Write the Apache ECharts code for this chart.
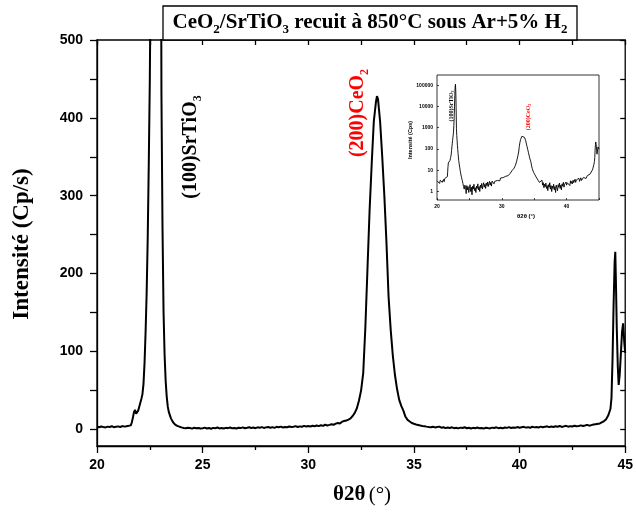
<!DOCTYPE html>
<html><head><meta charset="utf-8">
<script src="https://cdn.jsdelivr.net/npm/echarts@6/dist/echarts.min.js"></script>
<style>html,body{margin:0;padding:0;background:#fff}#c{width:636px;height:513px}</style>
</head><body><div id="c"></div>
<script>
// 2theta (degrees)
const theta = [
  20.0,20.1,20.2,20.3,20.4,20.5,20.6,20.7,20.8,20.9,21.0,21.1,21.2,21.3,21.4,21.5,21.6,
  21.65,21.7,21.75,21.8,21.85,21.9,21.95,22.0,22.05,22.1,22.15,22.2,22.25,22.3,22.35,22.4,22.45,22.5,22.55,22.6,22.65,22.7,22.75,22.8,22.85,22.9,22.95,23.0,23.05,23.1,23.15,23.2,23.25,23.3,23.35,23.4,23.5,23.6,23.7,23.8,23.9,
  24.0,24.1,24.2,24.3,24.4,24.5,24.6,24.7,24.8,24.9,25.0,25.1,25.2,25.3,25.4,25.5,25.6,25.7,25.8,25.9,
  26.0,26.1,26.2,26.3,26.4,26.5,26.6,26.7,26.8,26.9,27.0,27.1,27.2,27.3,27.4,27.5,27.6,27.7,27.8,27.9,
  28.0,28.1,28.2,28.3,28.4,28.5,28.6,28.7,28.8,28.9,29.0,29.1,29.2,29.3,29.4,29.5,29.6,29.7,29.8,29.9,30.0,
  30.1,30.2,30.3,30.4,30.5,30.6,30.7,30.8,30.9,31.0,31.1,31.2,31.3,31.4,31.5,31.6,31.7,31.8,31.9,32.0,
  32.1,32.2,32.3,32.4,32.5,32.6,32.7,32.8,32.9,33.0,33.1,33.2,33.25,33.3,33.4,33.5,33.6,33.7,33.8,33.9,34.0,34.1,34.2,34.3,34.4,34.5,34.6,34.7,34.8,34.9,35.0,35.1,
  35.2,35.3,35.4,35.5,35.6,35.7,35.8,35.9,
  36.0,36.1,36.2,36.3,36.4,36.5,36.6,36.7,36.8,36.9,37.0,37.1,37.2,37.3,37.4,37.5,37.6,37.7,37.8,37.9,
  38.0,38.1,38.2,38.3,38.4,38.5,38.6,38.7,38.8,38.9,39.0,39.1,39.2,39.3,39.4,39.5,39.6,39.7,39.8,39.9,
  40.0,40.1,40.2,40.3,40.4,40.5,40.6,40.7,40.8,40.9,41.0,41.1,41.2,41.3,41.4,41.5,41.6,41.7,41.8,41.9,
  42.0,42.1,42.2,42.3,42.4,42.5,42.6,42.7,42.8,42.9,43.0,43.1,43.2,43.3,43.4,43.5,43.6,
  43.8,44.0,44.1,44.2,44.3,44.35,44.4,44.45,44.5,44.53,44.56,44.6,44.65,44.69,44.74,44.8,44.85,44.9,44.93,44.96,45.0
];
// intensity (counts per second)
const counts = [
  3.2,2.6,3.5,2.9,2.4,3.4,3.0,3.9,2.7,3.3,3.7,2.9,4.1,3.4,3.9,4.4,5.0,
  9,15,22,25,20,19,24,29,34,39,45,58,85,125,175,245,340,450,620,1300,3200,9500,32000,85000,110000,52000,9000,950,430,260,150,95,62,42,29,22,14,9,6,4.4,3.3,
  2.4,1.7,1.3,2.0,1.6,0.8,1.9,1.2,1.7,0.9,1.4,2.1,1.0,1.6,0.7,1.8,1.3,2.2,1.1,1.5,
  0.9,1.8,1.4,2.3,1.2,1.7,1.0,2.0,1.5,2.4,1.3,1.9,2.6,1.6,2.2,1.4,2.5,1.9,2.8,1.7,
  2.4,3.0,2.0,2.7,1.8,3.1,2.5,3.4,2.3,3.0,2.6,3.6,2.8,3.3,4.0,2.9,3.7,3.2,4.3,3.5,4.1,
  3.6,4.5,3.9,4.8,4.0,5.2,4.4,5.8,4.9,5.6,6.4,5.8,7.2,8.0,7.4,9.8,10.6,11.2,12.5,14,
  17,21,27,37,50,72,130,205,280,340,395,420,428,424,395,350,300,240,170,128,95,70,52,38,30,24,16,12,10,8,7,6.2,
  5.5,4.8,4.2,3.9,3.4,3.0,2.7,3.3,
  2.4,2.9,3.4,2.0,2.6,1.5,2.2,1.7,2.5,1.4,1.9,1.1,2.1,1.6,2.6,1.3,1.9,1.0,1.8,1.4,
  2.2,1.2,1.7,0.9,2.0,1.5,1.1,2.1,1.6,2.5,1.4,2.0,1.2,2.3,1.8,2.7,1.6,2.2,1.9,2.8,
  2.0,2.6,3.1,2.1,2.7,1.9,3.2,2.4,3.0,2.3,3.4,2.6,3.1,3.8,2.7,3.5,2.9,3.9,3.2,4.2,
  3.0,3.7,4.4,3.3,4.0,3.5,4.6,3.8,4.3,5.0,4.1,4.8,5.6,4.6,5.3,6.0,6.5,
  7.5,10.5,13,18,26,40,90,160,215,228,190,130,80,57,70,100,125,136,134,110,98
];
const xLabelValues = [20,25,30,35,40,45];
const yLabelValues = [0,100,200,300,400,500];
const yTickValues = [0,50,100,150,200,250,300,350,400,450,500];
const insetXLabelValues = [20,30,40];
const insetYLabelValues = [1,10,100,1000,10000,100000];

const data = theta.map((t,i)=>[t, counts[i]]);
const serif = 'Liberation Serif, Times New Roman, serif';
const sans = 'Liberation Sans, Arial, sans-serif';
const K = '#000';

function rich(size, subSize, color, lh) {
  return {
    m:{fontFamily:serif, fontWeight:'bold', fontSize:size, lineHeight:lh, verticalAlign:'middle', fill:color, color:color},
    s:{fontFamily:serif, fontWeight:'bold', fontSize:subSize, lineHeight:Math.round(subSize*0.4), verticalAlign:'bottom', fill:color, color:color}
  };
}

const chart = echarts.init(document.getElementById('c'), null, {renderer:'canvas'});
const option = {
  animation:false,
  backgroundColor:'#fff',
  grid:[
    {left:97, right:9, top:40, bottom:67, show:true, borderColor:K, borderWidth:1.3, backgroundColor:'transparent', containLabel:false},
    {left:437, top:75, width:162, height:125, show:true, borderColor:K, borderWidth:0.8, backgroundColor:'transparent', containLabel:false}
  ],
  xAxis:[
    {gridIndex:0, type:'value', min:20, max:45, interval:5, position:'bottom',
     axisLine:{show:true, onZero:false, lineStyle:{color:K, width:1.3}},
     axisTick:{show:true, inside:false, length:7, lineStyle:{color:K, width:1.3}},
     minorTick:{show:true, splitNumber:2, length:4, lineStyle:{color:K, width:1.3}},
     axisLabel:{customValues:xLabelValues, color:K, fontFamily:sans, fontWeight:'bold', fontSize:14, margin:12},
     splitLine:{show:false}, minorSplitLine:{show:false}},
    {gridIndex:0, type:'value', min:20, max:45, interval:2.5, position:'top',
     axisLine:{show:false, onZero:false},
     axisTick:{show:true, inside:true, length:5, lineStyle:{color:K, width:1.3}},
     axisLabel:{show:false}, splitLine:{show:false}},
    {gridIndex:1, type:'value', min:20, max:45, interval:5, position:'bottom',
     axisLine:{show:false, onZero:false},
     axisTick:{show:true, inside:true, length:2, lineStyle:{color:K, width:0.7}},
     axisLabel:{customValues:insetXLabelValues, color:K, fontFamily:sans, fontWeight:'bold', fontSize:5, margin:4},
     splitLine:{show:false}}
  ],
  yAxis:[
    {gridIndex:0, type:'value', min:-21.5, max:500, position:'left',
     axisLine:{show:true, onZero:false, lineStyle:{color:K, width:1.3}},
     axisTick:{show:true, inside:false, length:7, customValues:yTickValues, lineStyle:{color:K, width:1.3}},
     axisLabel:{customValues:yLabelValues, color:K, fontFamily:sans, fontWeight:'bold', fontSize:14, margin:14},
     splitLine:{show:false}},
    {gridIndex:0, type:'value', min:-21.5, max:500, position:'right',
     axisLine:{show:false, onZero:false},
     axisTick:{show:true, inside:true, length:5, customValues:yTickValues, lineStyle:{color:K, width:1.3}},
     axisLabel:{show:false}, splitLine:{show:false}},
    {gridIndex:1, type:'log', logBase:10, min:0.4, max:300000, position:'left',
     axisLine:{show:false, onZero:false},
     axisTick:{show:true, inside:true, length:2, customValues:insetYLabelValues, lineStyle:{color:K, width:0.7}},
     axisLabel:{customValues:insetYLabelValues, formatter:v=>String(v), color:K, fontFamily:sans, fontWeight:'bold', fontSize:5, margin:4},
     splitLine:{show:false}}
  ],
  series:[
    {type:'line', xAxisIndex:0, yAxisIndex:0, data:data, showSymbol:false, symbol:'none', clip:true,
     lineStyle:{color:K, width:2}, z:3},
    {type:'line', xAxisIndex:2, yAxisIndex:2, data:data, showSymbol:false, symbol:'none', clip:true,
     lineStyle:{color:K, width:0.9}, z:3}
  ],
  graphic:[
    {type:'rect', shape:{x:163, y:6, width:414, height:34}, style:{fill:'#fff', stroke:K, lineWidth:1.3}, z:10},
    {type:'text', x:370, y:23, z:11, style:{text:'{m|CeO}{s|2}{m|/SrTiO}{s|3}{m| recuit à 850°C sous Ar+5% H}{s|2}',
      rich:rich(21,13,K,27), align:'center', verticalAlign:'middle', fill:K}},
    {type:'text', x:22, y:244, rotation:Math.PI/2, z:11, style:{text:'Intensité (Cp/s)', fontFamily:serif, fontWeight:'bold', fontSize:23,
      align:'center', verticalAlign:'middle', fill:K}},
    {type:'text', x:362, y:495, z:11, style:{text:'{b|θ2θ} {r|(°)}', rich:{b:{fontFamily:serif, fontWeight:'bold', fontSize:21, fill:K}, r:{fontFamily:serif, fontSize:21, fill:K}},
      align:'center', verticalAlign:'middle', fill:K}},
    {type:'text', x:191, y:147, rotation:Math.PI/2, z:11, style:{text:'{m|(100)SrTiO}{s|3}', rich:rich(20,12,K,26), align:'center', verticalAlign:'middle', fill:K}},
    {type:'text', x:358, y:113, rotation:Math.PI/2, z:11, style:{text:'{m|(200)CeO}{s|2}', rich:rich(20,12,'#ff0000',26), align:'center', verticalAlign:'middle', fill:'#ff0000'}},
    // inset texts
    {type:'text', x:410, y:140, rotation:Math.PI/2, z:11, style:{text:'Intensité (Cps)', fontFamily:sans, fontWeight:'bold', fontSize:5.5, align:'center', verticalAlign:'middle', fill:K}},
    {type:'text', x:526, y:216, z:11, style:{text:'θ2θ (°)', fontFamily:sans, fontWeight:'bold', fontSize:6, align:'center', verticalAlign:'middle', fill:K}},
    {type:'text', x:451, y:106, rotation:Math.PI/2, z:11, style:{text:'{m|(100)SrTiO}{s|3}', rich:rich(6,4,K,8), align:'center', verticalAlign:'middle', fill:K}},
    {type:'text', x:528, y:117, rotation:Math.PI/2, z:11, style:{text:'{m|(200)CeO}{s|2}', rich:rich(6,4,'#ff0000',8), align:'center', verticalAlign:'middle', fill:'#ff0000'}}
  ]
};
chart.setOption(option);
</script>
</body></html>
